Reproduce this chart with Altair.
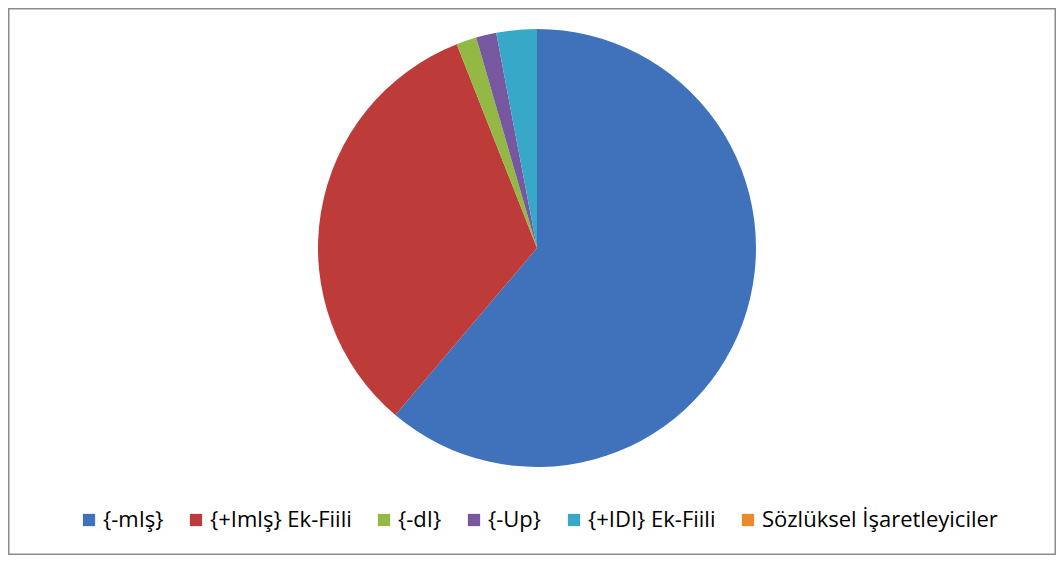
import altair as alt
import pandas as pd

categories = ["{-mIş}", "{+Imlş} Ek-Fiili", "{-dI}", "{-Up}", "{+IDI} Ek-Fiili", "Sözlüksel İşaretleyiciler"]
values = [41, 22, 1, 1, 2, 0]
colors = ["#3F72BA", "#BD3B38", "#93B944", "#7657A0", "#38A8C8", "#E98A2B"]

df = pd.DataFrame({"cat": categories, "val": values, "idx": list(range(len(categories)))})

W, H = 1048, 547

pie = alt.Chart(df).mark_arc(radius=219, x=529, y=240).encode(
    theta=alt.Theta("val:Q", stack=True),
    order=alt.Order("idx:Q"),
    color=alt.Color(
        "cat:N",
        scale=alt.Scale(domain=categories, range=colors),
        legend=alt.Legend(
            title=None,
            orient="none",
            direction="horizontal",
            legendX=70,
            legendY=501,
            symbolType="square",
            symbolSize=150,
            symbolStrokeWidth=0,
            labelFont="Open Sans",
            labelFontSize=22,
            labelColor="#000000",
            labelOffset=3,
            labelLimit=500,
            columnPadding=21,
        ),
    ),
)

border = alt.Chart(alt.Data(values=[{"a": 1}])).mark_rect(
    fill=None, stroke="#8c8c8c", strokeWidth=1.5
).encode(
    x=alt.value(0.75), x2=alt.value(W - 0.75),
    y=alt.value(0.75), y2=alt.value(H - 0.75),
)

chart = alt.layer(border, pie).properties(
    width=W,
    height=H,
    autosize=alt.AutoSizeParams(type="fit", contains="padding"),
    padding=0,
).configure_view(stroke=None)

chart.save("out.html", embed_options={"renderer": "svg", "actions": False})
